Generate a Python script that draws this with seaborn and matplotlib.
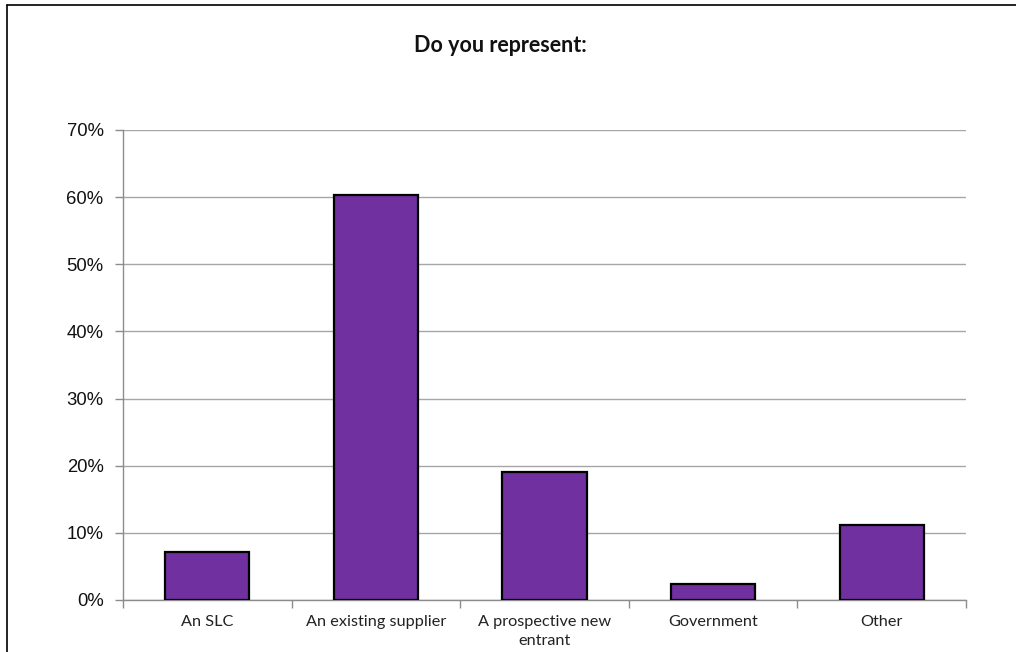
import numpy as np
import pandas as pd
import matplotlib
matplotlib.use("Agg")
import matplotlib.pyplot as plt
import seaborn as sns
from matplotlib.ticker import FuncFormatter, FixedLocator

# Data
categories = ["An SLC", "An existing supplier", "A prospective new\nentrant", "Government", "Other"]
shares = [7.1, 60.3, 19.1, 2.4, 11.1]
yticks = [0, 10, 20, 30, 40, 50, 60, 70]

df = pd.DataFrame({"category": categories, "share": shares})

sns.set_theme(style="white")
plt.rcParams["font.family"] = ["Liberation Sans", "DejaVu Sans"]

fig = plt.figure(figsize=(10.16, 6.52), dpi=100)
ax = fig.add_axes([123 / 1016, 1 - 600 / 652, (966 - 123) / 1016, (600 - 130) / 652])

sns.barplot(data=df, x="category", y="share", color="#7030A0", saturation=1,
            width=0.5, edgecolor="black", linewidth=1.6, ax=ax, zorder=3)

ax.set_ylim(0, 70)
ax.set_xlim(-0.5, len(categories) - 0.5)
ax.set_yticks(yticks)
ax.yaxis.set_major_formatter(FuncFormatter(lambda v, p: f"{v:.0f}%"))
ax.yaxis.grid(True, color="#a6a6a6", linewidth=1.0, zorder=0)
ax.set_axisbelow(True)

# category labels centered, ticks at boundaries
ax.set_xticks(range(len(categories)))
ax.set_xticklabels(categories, family=["Lato", "DejaVu Sans"], fontsize=11.7,
                   color="#222222", linespacing=1.45)
ax.tick_params(axis="x", which="major", length=0, pad=11)
ax.xaxis.set_minor_locator(FixedLocator(np.arange(-0.5, len(categories), 1.0)))
ax.tick_params(axis="x", which="minor", length=6, width=1, color="#8c8c8c", bottom=True)
ax.tick_params(axis="y", length=6, width=1, color="#8c8c8c", labelsize=13.3, pad=8,
               labelcolor="#111111", left=True)

for side in ["top", "right"]:
    ax.spines[side].set_visible(False)
for side in ["left", "bottom"]:
    ax.spines[side].set_color("#8c8c8c")
    ax.spines[side].set_linewidth(1.0)

ax.set_xlabel("")
ax.set_ylabel("")

fig.text(500 / 1016, 1 - 45 / 652, "Do you represent:", ha="center", va="center",
         fontsize=15.5, fontweight="bold", family=["Lato", "DejaVu Sans"], color="#111111")

# chart frame (top and left edges visible)
fig.add_artist(plt.Line2D([7 / 1016, 7 / 1016], [0, 1 - 5 / 652], transform=fig.transFigure,
                          color="black", linewidth=1.2))
fig.add_artist(plt.Line2D([7 / 1016, 1], [1 - 5 / 652, 1 - 5 / 652], transform=fig.transFigure,
                          color="black", linewidth=1.2))

fig.savefig("out.png", dpi=100)
